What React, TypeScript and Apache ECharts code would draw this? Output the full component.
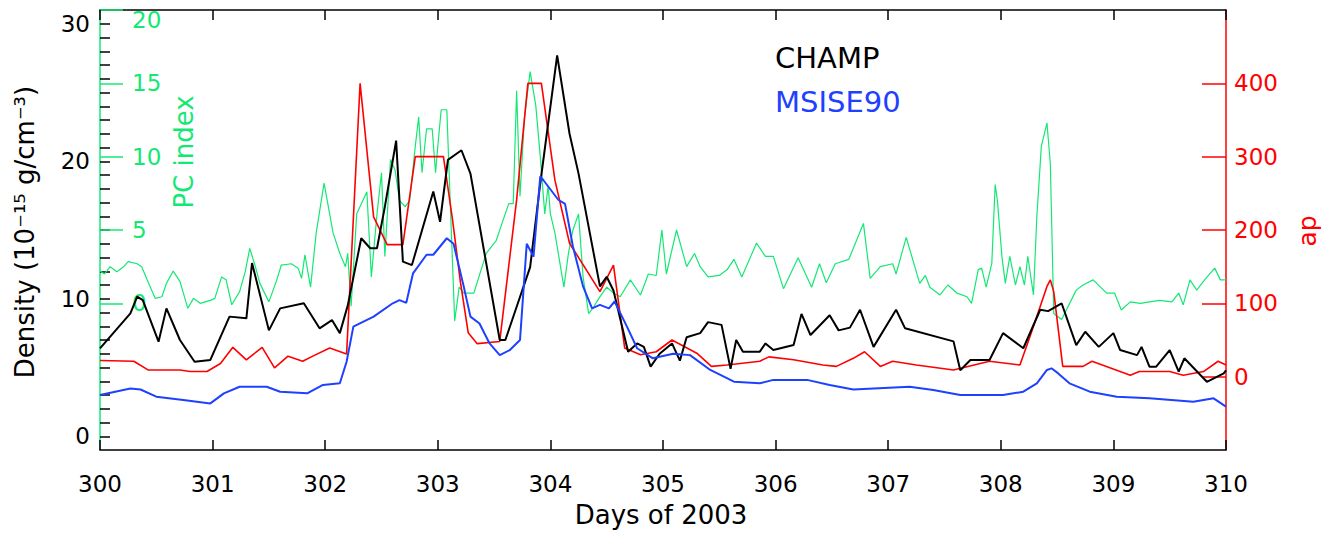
import React, { useEffect, useRef } from "react";
import * as echarts from "echarts";

// CHAMP measured thermospheric density, [day of 2003, 10^-15 g/cm^3]
const champ: number[][] = [
  [300.0, 6.39], [300.27, 8.94], [300.33, 10.15], [300.38, 9.9], [300.52, 6.88], [300.59, 9.3],
  [300.71, 7.0], [300.84, 5.42], [300.98, 5.55], [301.15, 8.7], [301.3, 8.58], [301.35, 12.6],
  [301.5, 7.7], [301.6, 9.3], [301.81, 9.67], [301.95, 7.85], [302.06, 8.45], [302.13, 7.5],
  [302.2, 9.5], [302.32, 14.4], [302.4, 13.67], [302.46, 13.67], [302.53, 16.7], [302.63, 21.5],
  [302.69, 12.7], [302.77, 12.45], [302.96, 17.8], [303.02, 15.6], [303.09, 20.1], [303.21, 20.8],
  [303.29, 19.1], [303.55, 7.0], [303.6, 7.0], [303.82, 12.3], [303.91, 18.4], [304.06, 27.7],
  [304.17, 22.0], [304.25, 19.1], [304.44, 10.9], [304.5, 11.6], [304.56, 10.6], [304.69, 6.15],
  [304.77, 6.75], [304.83, 6.5], [304.89, 5.06], [304.97, 6.0], [305.08, 6.75], [305.15, 5.5],
  [305.21, 7.2], [305.33, 7.5], [305.4, 8.3], [305.52, 8.1], [305.6, 4.9], [305.65, 7.0],
  [305.71, 6.15], [305.86, 6.15], [305.91, 6.75], [305.98, 6.27], [306.16, 6.63], [306.23, 8.9],
  [306.31, 7.36], [306.48, 8.8], [306.56, 7.7], [306.66, 7.9], [306.75, 9.2], [306.87, 6.5],
  [307.07, 9.2], [307.15, 7.85], [307.58, 6.9], [307.64, 4.8], [307.73, 5.55], [307.9, 5.55],
  [308.02, 7.5], [308.2, 6.4], [308.35, 9.2], [308.42, 9.1], [308.54, 9.67], [308.67, 6.63],
  [308.75, 7.6], [308.87, 6.5], [309.0, 7.5], [309.06, 6.27], [309.21, 5.9], [309.25, 6.5],
  [309.32, 5.06], [309.38, 5.06], [309.5, 6.27], [309.58, 4.7], [309.63, 5.67], [309.83, 3.96],
  [309.98, 4.57], [310.0, 4.8],
];

// MSISE90 model density along the orbit
const msise90: number[][] = [
  [300.0, 3.0], [300.27, 3.48], [300.36, 3.4], [300.5, 2.88], [300.74, 2.64], [300.98, 2.39],
  [301.1, 3.12], [301.24, 3.6], [301.48, 3.6], [301.6, 3.24], [301.84, 3.12], [301.98, 3.73],
  [302.13, 3.85], [302.19, 5.42], [302.25, 7.97], [302.43, 8.7], [302.6, 9.67], [302.66, 9.9],
  [302.72, 9.7], [302.78, 11.85], [302.9, 13.2], [302.96, 13.2], [303.08, 14.4], [303.14, 14.0],
  [303.23, 10.9], [303.29, 8.7], [303.37, 8.2], [303.46, 6.75], [303.55, 5.9], [303.64, 6.27],
  [303.73, 7.0], [303.79, 14.0], [303.85, 13.06], [303.91, 18.9], [303.94, 18.6], [304.07, 17.2],
  [304.13, 16.9], [304.2, 13.8], [304.29, 10.9], [304.37, 9.3], [304.44, 9.55], [304.52, 9.3],
  [304.57, 9.8], [304.68, 7.97], [304.77, 6.4], [304.91, 5.67], [305.09, 6.0], [305.24, 5.9],
  [305.42, 4.82], [305.63, 3.97], [305.86, 3.85], [305.98, 4.1], [306.28, 4.1], [306.48, 3.73],
  [306.69, 3.4], [307.19, 3.6], [307.4, 3.36], [307.64, 3.0], [308.02, 3.0], [308.2, 3.24],
  [308.32, 3.85], [308.41, 4.82], [308.45, 4.94], [308.51, 4.57], [308.61, 3.85], [308.79, 3.24],
  [309.03, 2.88], [309.32, 2.76], [309.71, 2.51], [309.89, 2.76], [310.0, 2.15],
];

// Geomagnetic ap index
const apIndex: number[][] = [
  [300.0, 22], [300.3, 21], [300.43, 9], [300.71, 9], [300.8, 7], [300.95, 7], [301.07, 18],
  [301.18, 40], [301.3, 23], [301.44, 40], [301.55, 12], [301.67, 28], [301.8, 21], [301.89, 28],
  [302.04, 39], [302.19, 31], [302.31, 400], [302.43, 218], [302.55, 180], [302.69, 180],
  [302.8, 300], [303.05, 300], [303.13, 215], [303.2, 130], [303.27, 60], [303.35, 45],
  [303.55, 48], [303.7, 241], [303.8, 400], [303.92, 400], [304.04, 268], [304.17, 182],
  [304.44, 116], [304.56, 152], [304.66, 39], [304.8, 30], [304.94, 34], [305.08, 50],
  [305.3, 32], [305.43, 14], [305.57, 16], [305.86, 21], [305.94, 27], [306.16, 23],
  [306.42, 16], [306.54, 14], [306.69, 25], [306.79, 34], [306.93, 14], [307.04, 21],
  [307.25, 16], [307.58, 9], [307.9, 21], [308.17, 16], [308.26, 55], [308.41, 123],
  [308.44, 132], [308.47, 116], [308.55, 14], [308.73, 14], [308.81, 21], [309.15, 2],
  [309.23, 7], [309.5, 7], [309.62, 2], [309.8, 7], [309.93, 21], [310.0, 16],
];

// Polar cap (PC) index
const pcIndex: number[][] = [
  [300.0, 2.2], [300.04, 2.0], [300.09, 2.5], [300.15, 2.16], [300.21, 2.5], [300.25, 2.84],
  [300.33, 2.7], [300.37, 2.5], [300.43, 1.4], [300.49, 0.34], [300.55, 0.45], [300.59, 1.36],
  [300.65, 2.2], [300.71, 1.5], [300.78, -0.34], [300.83, 0.34], [300.89, 0], [300.98, 0.2],
  [301.02, 0.34], [301.08, 1.8], [301.12, 1.6], [301.17, -0.1], [301.24, 0.8], [301.29, 2.16],
  [301.33, 3.75], [301.38, 2.5], [301.42, 1.36], [301.5, 0.1], [301.57, 1.6], [301.61, 2.6],
  [301.7, 2.7], [301.76, 2.4], [301.79, 1.7], [301.82, 3.3], [301.87, 1.1], [301.92, 4.8],
  [301.99, 8.2], [302.07, 4.8], [302.13, 3.4], [302.18, 2.5], [302.2, 3.4], [302.23, -0.2],
  [302.28, 6.1], [302.37, 7.6], [302.41, 1.8], [302.46, 6.1], [302.5, 8.9], [302.53, 3.2],
  [302.58, 9.8], [302.62, 9.1], [302.66, 7.0], [302.71, 6.6], [302.75, 7.0], [302.8, 10.7],
  [302.83, 12.7], [302.86, 8.9], [302.9, 11.9], [302.95, 11.9], [302.98, 8.9], [303.0, 10.7],
  [303.03, 13.2], [303.08, 13.2], [303.11, 7.0], [303.15, -1.2], [303.19, 1.1], [303.23, 0.7],
  [303.32, 0.7], [303.43, 3.4], [303.52, 4.3], [303.57, 5.45], [303.63, 6.8], [303.67, 6.8],
  [303.7, 14.5], [303.73, 7.3], [303.77, 12.7], [303.82, 15.8], [303.87, 13.5], [303.91, 10.0],
  [303.95, 6.1], [303.98, 8.0], [304.0, 6.1], [304.04, 4.8], [304.12, 1.1], [304.16, 3.4],
  [304.2, 5.0], [304.25, 6.1], [304.29, 1.8], [304.34, -0.7], [304.38, -0.3], [304.43, 0.34],
  [304.5, 1.1], [304.56, 0.7], [304.62, 0.45], [304.71, 1.6], [304.8, 0.57], [304.87, 2.0],
  [304.94, 1.9], [304.99, 5.0], [305.03, 2.0], [305.12, 5.0], [305.21, 2.5], [305.28, 3.4],
  [305.33, 2.5], [305.4, 1.8], [305.5, 1.9], [305.57, 2.3], [305.63, 3.0], [305.7, 1.8],
  [305.83, 4.1], [305.91, 3.2], [305.98, 3.2], [306.07, 1.0], [306.2, 3.1], [306.32, 1.1],
  [306.39, 2.7], [306.45, 1.4], [306.53, 2.7], [306.65, 3.0], [306.78, 5.45], [306.84, 1.7],
  [306.93, 2.5], [307.04, 2.7], [307.07, 2.0], [307.16, 4.5], [307.28, 1.36], [307.33, 1.9],
  [307.37, 1.1], [307.46, 0.57], [307.53, 1.25], [307.61, 0.7], [307.7, 0.45], [307.74, 0],
  [307.8, 2.3], [307.83, 2.4], [307.87, 1.1], [307.92, 2.7], [307.95, 8.1], [307.97, 7.0],
  [308.01, 3.2], [308.04, 1.36], [308.08, 3.2], [308.13, 1.25], [308.17, 2.5], [308.21, 1.25],
  [308.24, 3.2], [308.29, 0.57], [308.32, 5.9], [308.36, 10.7], [308.41, 12.3], [308.44, 9.5],
  [308.47, -0.7], [308.54, -1.1], [308.67, 0.9], [308.73, 1.25], [308.82, 1.6], [308.94, 0.7],
  [309.01, 0.7], [309.07, -0.45], [309.15, 0.1], [309.24, 0], [309.32, 0.1], [309.41, 0.2],
  [309.52, 0.1], [309.58, 0.7], [309.62, -0.1], [309.68, 1.6], [309.74, 0.9], [309.81, 1.6],
  [309.9, 2.4], [309.95, 1.6], [310.0, 1.6],
];

// Tick labels of the three vertical scales
const densityTicks = [0, 10, 20, 30];
const pcTicks = [0, 5, 10, 15, 20];
const apTicks = [0, 100, 200, 300, 400];

const FONT = "DejaVu Sans";
const BLACK = "#000000";
const BLUE = "#1e40ff";
const RED = "#ff0000";
const GREEN = "#14e874";

export default function App() {
  const ref = useRef<HTMLDivElement>(null);

  useEffect(() => {
    if (!ref.current) return;
    const chart = echarts.init(ref.current, null, { renderer: "svg" });
    const densityMinor: number[] = [];
    for (let v = 0; v <= 30; v++) densityMinor.push(v);

    const xAxisBase = {
      type: "value",
      min: 300,
      max: 310,
      interval: 1,
      axisLine: { show: true, onZero: false, lineStyle: { color: BLACK, width: 1.5 } },
      axisTick: { show: true, inside: true, length: 10, lineStyle: { color: BLACK, width: 1.5 } },
      splitLine: { show: false },
    };

    chart.setOption({
      animation: false,
      backgroundColor: "#ffffff",
      grid: { left: 100, right: 110, top: 10, bottom: 84 },
      legend: {
        left: 765,
        top: 38,
        orient: "vertical",
        icon: "none",
        itemWidth: 0,
        itemHeight: 28,
        itemGap: 15,
        selectedMode: false,
        textStyle: { fontSize: 29, fontFamily: FONT },
        data: [
          { name: "CHAMP", textStyle: { color: BLACK } },
          { name: "MSISE90", textStyle: { color: BLUE } },
        ],
      },
      xAxis: [
        {
          ...xAxisBase,
          position: "bottom",
          axisLabel: { color: BLACK, fontSize: 23, fontFamily: FONT, margin: 22 },
        },
        {
          ...xAxisBase,
          position: "top",
          axisLabel: { show: false },
        },
      ],
      yAxis: [
        {
          type: "value",
          position: "left",
          min: -1,
          max: 31,
          axisLine: { show: false },
          axisTick: {
            show: true,
            inside: true,
            length: 10,
            customValues: densityMinor,
            lineStyle: { color: BLACK, width: 1.5 },
          },
          axisLabel: {
            color: BLACK,
            fontSize: 23,
            fontFamily: FONT,
            margin: 10,
            customValues: densityTicks,
          },
          splitLine: { show: false },
        },
        {
          type: "value",
          position: "left",
          min: -10,
          max: 20,
          axisLine: { show: true, onZero: false, lineStyle: { color: GREEN, width: 1.5 } },
          axisTick: {
            show: true,
            inside: true,
            length: 23,
            customValues: pcTicks,
            lineStyle: { color: GREEN, width: 1.5 },
          },
          axisLabel: {
            inside: true,
            color: GREEN,
            fontSize: 23,
            fontFamily: FONT,
            margin: 32,
            customValues: pcTicks,
            formatter: (v: number) => (v === 20 ? "{top|20}" : String(v)),
            rich: { top: { fontSize: 23, fontFamily: FONT, color: GREEN, padding: [20, 0, 0, 0] } },
          },
          splitLine: { show: false },
        },
        {
          type: "value",
          position: "right",
          min: -100,
          max: 500,
          axisLine: { show: true, onZero: false, lineStyle: { color: RED, width: 1.5 } },
          axisTick: {
            show: true,
            inside: true,
            length: 24,
            customValues: apTicks,
            lineStyle: { color: RED, width: 1.5 },
          },
          axisLabel: {
            color: RED,
            fontSize: 23,
            fontFamily: FONT,
            margin: 8,
            customValues: apTicks,
          },
          splitLine: { show: false },
        },
      ],
      graphic: [
        {
          type: "text",
          x: 25,
          y: 232,
          rotation: Math.PI / 2,
          style: {
            text: "Density (10\u207B\u00B9\u2075 g/cm\u207B\u00B3)",
            fill: BLACK,
            font: `26px ${FONT}`,
            align: "center",
            verticalAlign: "middle",
          },
        },
        {
          type: "text",
          x: 184,
          y: 152,
          rotation: Math.PI / 2,
          style: {
            text: "PC index",
            fill: GREEN,
            font: `26px ${FONT}`,
            align: "center",
            verticalAlign: "middle",
          },
        },
        {
          type: "text",
          x: 1307,
          y: 231,
          rotation: Math.PI / 2,
          style: {
            text: "ap",
            fill: RED,
            font: `25px ${FONT}`,
            align: "center",
            verticalAlign: "middle",
          },
        },
        {
          type: "text",
          x: 661,
          y: 515,
          style: {
            text: "Days of 2003",
            fill: BLACK,
            font: `26px ${FONT}`,
            align: "center",
            verticalAlign: "middle",
          },
        },
      ],
      series: [
        {
          name: "PC index",
          type: "line",
          xAxisIndex: 0,
          yAxisIndex: 1,
          data: pcIndex,
          showSymbol: false,
          lineStyle: { color: GREEN, width: 1.2 },
          itemStyle: { color: GREEN },
          z: 1,
        },
        {
          name: "ap",
          type: "line",
          xAxisIndex: 0,
          yAxisIndex: 2,
          data: apIndex,
          showSymbol: false,
          lineStyle: { color: RED, width: 1.6 },
          itemStyle: { color: RED },
          z: 2,
        },
        {
          name: "CHAMP",
          type: "line",
          xAxisIndex: 0,
          yAxisIndex: 0,
          data: champ,
          showSymbol: false,
          lineStyle: { color: BLACK, width: 2 },
          itemStyle: { color: BLACK },
          z: 3,
        },
        {
          name: "MSISE90",
          type: "line",
          xAxisIndex: 0,
          yAxisIndex: 0,
          data: msise90,
          showSymbol: false,
          lineStyle: { color: BLUE, width: 2 },
          itemStyle: { color: BLUE },
          z: 4,
        },
      ],
    });

    return () => chart.dispose();
  }, []);

  return (
    <div
      ref={ref}
      style={{ position: "absolute", left: 0, top: 0, width: 1336, height: 534 }}
    />
  );
}
